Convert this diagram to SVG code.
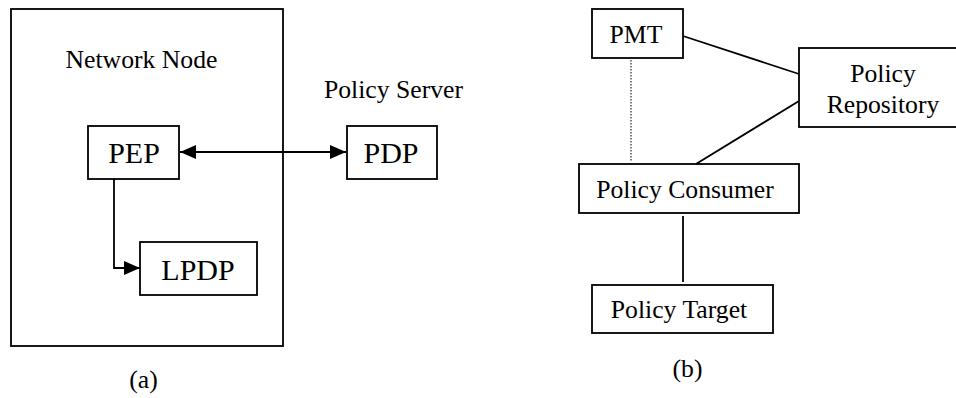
<svg xmlns="http://www.w3.org/2000/svg" width="956" height="398" viewBox="0 0 956 398">
<style>
.box{fill:#fff;stroke:#000;stroke-width:1.8}
.frame{fill:none;stroke:#000;stroke-width:1.8}
.ln{fill:none;stroke:#000;stroke-width:1.8}
.dot{fill:none;stroke:#000;stroke-width:1;stroke-dasharray:1.5 1.5}
text{font-family:"Liberation Serif","Times New Roman",serif;fill:#000;text-anchor:middle}
.s{font-size:25.7px}
.l{font-size:30px}
</style>
<defs>
<marker id="ah" viewBox="0 0 16 14" refX="16" refY="7" markerWidth="16" markerHeight="14" markerUnits="userSpaceOnUse" orient="auto-start-reverse">
<path d="M0,0 L16,7 L0,14 Z" fill="#000"/>
</marker>
</defs>
<rect x="0" y="0" width="956" height="398" fill="#fff"/>
<g id="network-node">
<rect class="frame" x="11" y="9" width="272" height="337"/>
<text class="s" x="141.5" y="68">Network Node</text>
</g>
<g id="policy-server-label">
<text class="s" x="393.5" y="98">Policy Server</text>
</g>
<g id="pep">
<rect class="box" x="88" y="126" width="91" height="53"/>
<text class="l" x="134" y="163">PEP</text>
</g>
<g id="pdp">
<rect class="box" x="347" y="126" width="90" height="53"/>
<text class="l" x="391" y="163">PDP</text>
</g>
<g id="lpdp">
<rect class="box" x="140" y="242" width="117" height="53"/>
<text class="l" x="198" y="280">LPDP</text>
</g>
<g id="pmt">
<rect class="box" x="592" y="9" width="91" height="49"/>
<text class="s" x="636" y="43">PMT</text>
</g>
<g id="policy-repository">
<rect class="box" x="799" y="48" width="160" height="79"/>
<text class="s" x="883" y="82">Policy</text>
<text class="s" x="883" y="113">Repository</text>
</g>
<g id="policy-consumer">
<rect class="box" x="579" y="164" width="220" height="49"/>
<text class="s" x="685" y="198">Policy Consumer</text>
</g>
<g id="policy-target">
<rect class="box" x="592" y="285" width="181" height="48"/>
<text class="s" x="679" y="318">Policy Target</text>
</g>
<g id="captions">
<text class="s" x="143.5" y="388">(a)</text>
<text class="s" x="687.5" y="377">(b)</text>
</g>
<g id="connectors">
<line class="ln" x1="180" y1="152" x2="346" y2="152" marker-start="url(#ah)" marker-end="url(#ah)"/>
<path class="ln" d="M114,179 V268 H140" marker-end="url(#ah)"/>
<line class="ln" x1="683" y1="36" x2="799" y2="74"/>
<line class="ln" x1="799" y1="101" x2="696" y2="164"/>
<line class="dot" x1="631" y1="60" x2="631" y2="162"/>
<line class="ln" x1="683" y1="216" x2="683" y2="282"/>
</g>
</svg>
